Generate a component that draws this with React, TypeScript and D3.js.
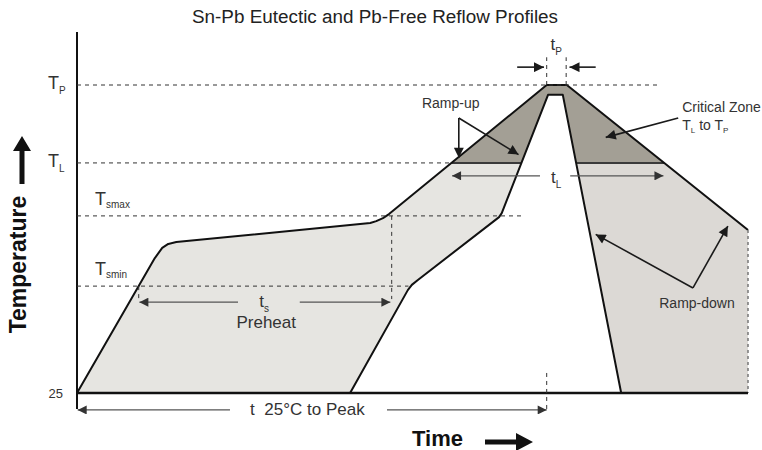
import React from 'react';
import * as d3 from 'd3';

type Pt = [number, number];

// time in relative units (0..100), temperature in relative units (25°C = 0, T_P = 100)
const levelNames = ['P', 'L', 'smax', 'smin'];
const levelValues = [100, 74.7, 57.5, 34.7];
const levelDashEnd = [86.6, 55.8, 66.5, 49.4];

// Pb-free (outer) profile
const pbFreeProfile: Pt[] = [
  [0, 0], [11.6, 43.8], [12.7, 47.1], [13.6, 48.4], [14.8, 49.0],
  [43.7, 55.2], [44.6, 55.8], [45.6, 56.8], [46.5, 58.1],
  [70.0, 100], [73.0, 100], [100, 52.9],
];

// Sn-Pb eutectic (inner) profile
const snPbProfile: Pt[] = [
  [40.7, 0], [49.3, 33.4], [49.9, 35.1], [50.8, 36.7],
  [62.9, 57.1], [63.3, 58.4], [70.2, 96.8], [72.4, 96.8], [81.1, 0],
];

// vertical guide lines: time, from, to
const guides: [number, number, number][] = [
  [46.9, 57.5, 30.5],
  [70.0, 100, 109],
  [72.9, 100, 109],
  [70.0, 6.5, -5.5],
  [9.2, 34.7, 30.5],
];

// annotation arrows: tail -> head
const darkArrows: [Pt, Pt][] = [
  [[65.6, 105.8], [69.6, 105.8]],
  [[77.3, 105.8], [73.4, 105.8]],
  [[56.9, 89.3], [56.9, 76.4]],
  [[56.9, 89.3], [65.8, 77.4]],
  [[89.6, 89.3], [78.8, 83.0]],
  [[91.8, 34.1], [77.3, 51.5]],
  [[91.8, 34.1], [97.0, 54.2]],
];
const greyArrows: [Pt, Pt][] = [
  [[69.0, 70.5], [55.9, 70.5]],
  [[73.5, 70.5], [87.4, 70.5]],
  [[24.0, 29.5], [9.3, 29.5]],
  [[33.2, 29.5], [46.7, 29.5]],
  [[22.8, -5.5], [0.1, -5.5]],
  [[46.2, -5.5], [70.0, -5.5]],
];

const font = '"Liberation Sans", Arial, Helvetica, sans-serif';

function crossing(pts: Pt[], v: number, fromRight = false): number {
  const segs = d3.pairs(pts);
  if (fromRight) segs.reverse();
  for (const [a, b] of segs) {
    if ((a[1] - v) * (b[1] - v) <= 0 && a[1] !== b[1]) {
      return a[0] + ((v - a[1]) * (b[0] - a[0])) / (b[1] - a[1]);
    }
  }
  return NaN;
}

const App: React.FC = () => {
  const x = d3.scaleLinear().domain([0, 100]).range([77, 748]);
  const y = d3.scaleLinear().domain([0, 100]).range([393, 85]);
  const line = d3.line<Pt>().x((d) => x(d[0])).y((d) => y(d[1]));

  const tl = levelValues[1];
  const outerL = crossing(pbFreeProfile, tl);
  const outerR = crossing(pbFreeProfile, tl, true);
  const last = pbFreeProfile[pbFreeProfile.length - 1];
  const splitT = 71.5;

  const outerShape = line([...pbFreeProfile, [last[0], 0]]) + 'Z';
  const innerShape = line(snPbProfile) + 'Z';

  const dash = { stroke: '#333', strokeWidth: 1, strokeDasharray: '4 4' };

  return (
    <svg width={762} height={450} style={{ position: 'absolute', left: 0, top: 0 }} fontFamily={font}>
      <defs>
        <marker id="head" viewBox="0 0 10 10" refX={10} refY={5} markerWidth={11} markerHeight={10}
          markerUnits="userSpaceOnUse" orient="auto">
          <path d="M0,0L10,5L0,10Z" fill="#1a1a1a" />
        </marker>
        <marker id="headG" viewBox="0 0 10 10" refX={10} refY={5} markerWidth={11} markerHeight={9}
          markerUnits="userSpaceOnUse" orient="auto">
          <path d="M0,0L10,5L0,10Z" fill="#333" />
        </marker>
        <clipPath id="leftPart"><rect x={0} y={0} width={x(splitT)} height={450} /></clipPath>
        <clipPath id="rightPart"><rect x={x(splitT)} y={0} width={762} height={450} /></clipPath>
        <clipPath id="aboveTL"><rect x={0} y={0} width={762} height={y(tl)} /></clipPath>
      </defs>

      <text x={375} y={23} textAnchor="middle" fontSize={18} fill="#222" textLength={366}
        lengthAdjust="spacingAndGlyphs">
        Sn-Pb Eutectic and Pb-Free Reflow Profiles
      </text>

      {/* fills */}
      <path d={outerShape} fill="#e6e5e1" clipPath="url(#leftPart)" />
      <path d={outerShape} fill="#dcd9d5" clipPath="url(#rightPart)" />
      <path d={outerShape} fill="#a39f95" clipPath="url(#aboveTL)" />
      <line x1={x(outerL)} x2={x(outerR)} y1={y(tl)} y2={y(tl)} stroke="#3a3a3a" strokeWidth={2} />
      <path d={innerShape} fill="#fff" />

      {/* profiles */}
      <path d={line(snPbProfile) ?? ''} fill="none" stroke="#111" strokeWidth={2} strokeLinejoin="round" />
      <path d={line(pbFreeProfile) ?? ''} fill="none" stroke="#111" strokeWidth={2} strokeLinejoin="round" />
      <line x1={x(last[0])} x2={x(last[0])} y1={y(last[1])} y2={y(0)} stroke="#777" strokeWidth={1.5}
        strokeDasharray="3 3" />

      {/* axes */}
      <line x1={x(0)} x2={x(0)} y1={32} y2={409} stroke="#111" strokeWidth={2} />
      <line x1={x(0) - 1} x2={x(100)} y1={y(0)} y2={y(0)} stroke="#111" strokeWidth={2.5} />

      {/* reference levels */}
      {levelValues.map((v, i) => (
        <line key={'lv' + i} x1={x(0)} x2={x(levelDashEnd[i])} y1={y(v)} y2={y(v)} {...dash} />
      ))}
      {guides.map(([t, a, b], i) => (
        <line key={'g' + i} x1={x(t)} x2={x(t)} y1={y(a)} y2={y(b)} {...dash} />
      ))}

      {/* level labels */}
      {levelNames.map((n, i) => {
        const inside = i >= 2;
        return (
          <text key={'ll' + i} x={inside ? 95 : 48} y={y(levelValues[i]) + (inside ? -11 : 4)}
            fontSize={18} fill="#333">
            T<tspan fontSize={10} dy={inside ? 3 : 5}>{n}</tspan>
          </text>
        );
      })}
      <text x={63} y={398} textAnchor="end" fontSize={13} fill="#333">25</text>

      {/* arrows */}
      {darkArrows.map(([a, b], i) => (
        <line key={'da' + i} x1={x(a[0])} y1={y(a[1])} x2={x(b[0])} y2={y(b[1])}
          stroke="#1a1a1a" strokeWidth={1.6} markerEnd="url(#head)" />
      ))}
      {greyArrows.map(([a, b], i) => (
        <line key={'ga' + i} x1={x(a[0])} y1={y(a[1])} x2={x(b[0])} y2={y(b[1])}
          stroke="#555" strokeWidth={1.3} markerEnd="url(#headG)" />
      ))}

      {/* annotation texts */}
      <text x={x(71.4)} y={y(111.4)} textAnchor="middle" fontSize={17} fill="#333">
        t<tspan fontSize={10} dy={5}>P</tspan>
      </text>
      <text x={x(55.7)} y={y(92.5)} textAnchor="middle" fontSize={14} fill="#333">Ramp-up</text>
      <text x={x(90.2)} y={y(91.2)} fontSize={14} fill="#333">Critical Zone</text>
      <text x={x(90.2)} y={y(85.4)} fontSize={14} fill="#333">
        T<tspan fontSize={8} dy={3}>L</tspan><tspan dy={-3}> to T</tspan><tspan fontSize={8} dy={3}>P</tspan>
      </text>
      <text x={x(71.4)} y={y(68.2)} textAnchor="middle" fontSize={17} fill="#333">
        t<tspan fontSize={10} dy={5}>L</tspan>
      </text>
      <text x={x(27.9)} y={y(27.9)} textAnchor="middle" fontSize={17} fill="#333">
        t<tspan fontSize={10} dy={5}>s</tspan>
      </text>
      <text x={x(28.2)} y={y(21.1)} textAnchor="middle" fontSize={17} fill="#333">Preheat</text>
      <text x={x(92.4)} y={y(27.6)} textAnchor="middle" fontSize={14} fill="#333">Ramp-down</text>
      <text x={x(25.8)} y={y(-7.1)} fontSize={17} fill="#333" xmlSpace="preserve">t  25°C to Peak</text>

      {/* axis titles */}
      <text transform="translate(26,264.5) rotate(-90)" textAnchor="middle" fontSize={23} fontWeight="bold"
        fill="#111">Temperature</text>
      <path d="M19.5,184V151H13L22,136L31,151H24.5V184Z" fill="#111" />
      <text x={412} y={446} fontSize={22} fontWeight="bold" fill="#111">Time</text>
      <path d="M485,439.5H516V433L533,442L516,451V444.5H485Z" fill="#111" />
    </svg>
  );
};

export default App;
